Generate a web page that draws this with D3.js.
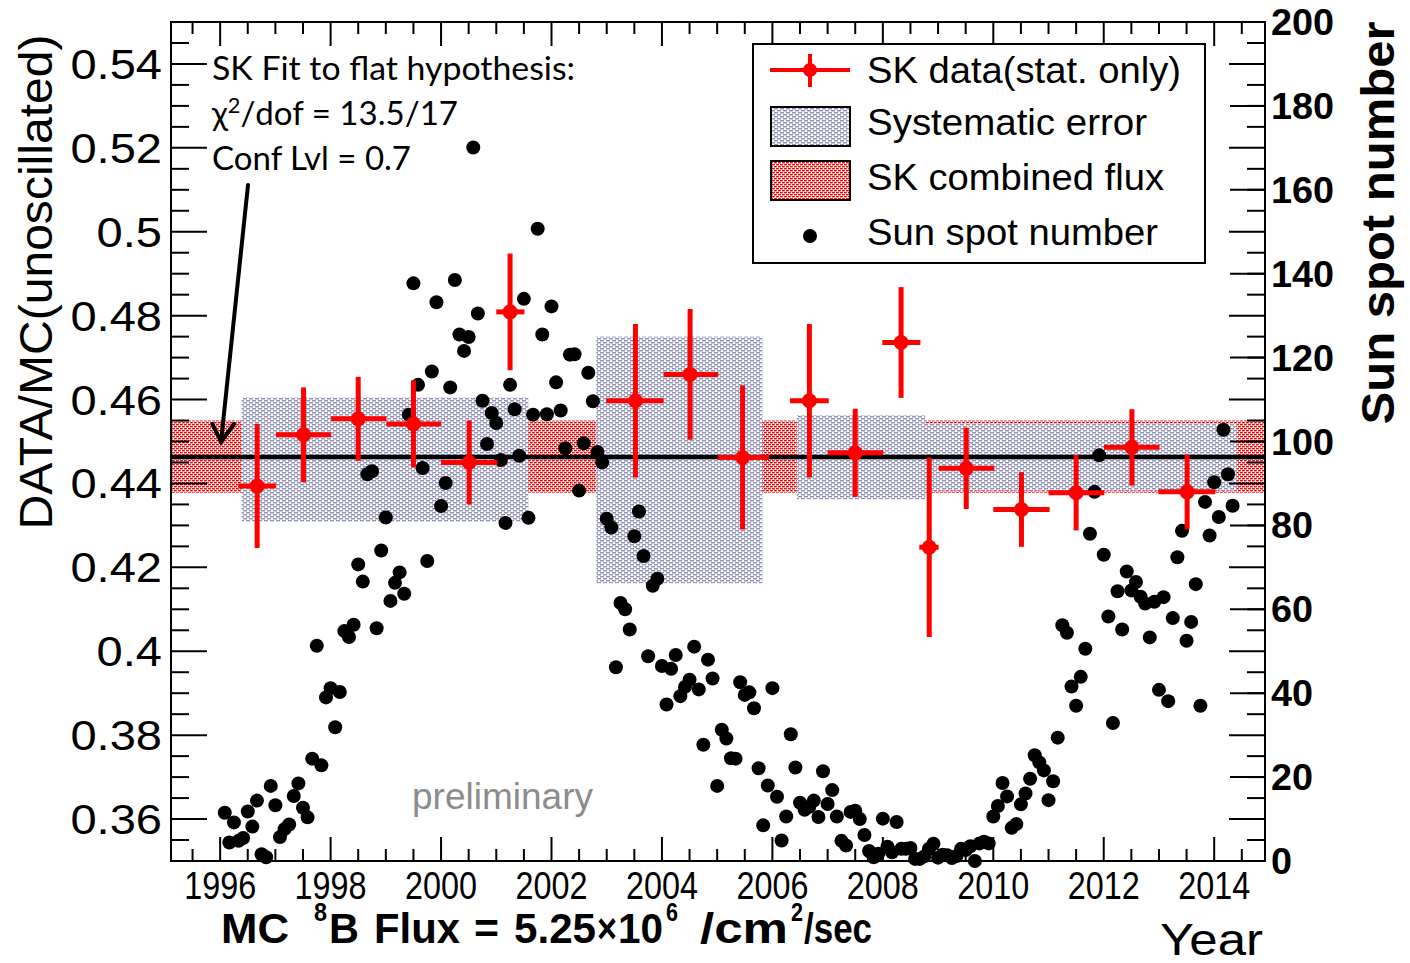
<!DOCTYPE html>
<html><head><meta charset="utf-8">
<script src="https://cdn.jsdelivr.net/npm/d3@7"></script>
<style>body{margin:0;background:#fff}svg{display:block}</style>
</head><body>
<svg id="c" width="1410" height="963"></svg>
<script>
// ---------------- DATA ----------------
// Monthly sun spot number, Jan 1996 .. Apr 2014
const sunspotStartYear = 1996;
const sunspotNumber = [
 11.5,4.4,9.2,4.8,5.5,11.8,8.2,14.4,1.6,0.9,17.9,13.3,
 5.7,7.6,8.7,15.5,18.5,12.7,10.4,24.4,51.3,22.8,39.0,41.2,
 31.9,40.3,54.8,53.4,56.3,70.7,66.6,92.2,92.9,55.5,74.0,81.9,
 62.0,66.3,68.8,63.7,106.4,137.7,113.5,93.7,71.5,116.7,133.2,84.6,
 90.1,112.9,138.5,125.5,121.6,124.9,170.1,130.5,109.7,99.4,106.8,104.4,
 95.6,80.6,113.5,107.7,96.6,134.0,81.8,106.4,150.7,125.5,106.5,132.2,
 114.1,107.4,98.4,120.7,120.8,88.3,99.6,116.4,109.6,97.5,95.0,81.6,
 79.5,46.2,61.5,60.0,55.2,77.4,83.3,72.7,48.8,65.6,67.3,46.5,
 37.3,45.8,49.1,39.3,41.5,43.2,51.1,40.9,27.7,48.0,43.5,17.9,
 31.3,29.2,24.5,24.4,42.6,39.6,40.2,36.4,22.1,8.5,18.0,41.2,
 15.3,4.9,10.6,30.2,22.3,13.9,12.2,12.9,14.4,10.5,21.4,13.6,
 16.9,10.6,4.8,3.7,11.7,12.0,10.0,6.2,2.4,0.9,1.7,10.1,
 3.4,2.1,9.3,2.9,2.9,3.1,0.5,0.5,1.1,2.9,4.1,0.8,
 1.5,1.4,0.7,1.2,2.9,2.6,3.5,0.0,4.2,4.6,4.2,10.6,
 13.1,18.6,15.4,7.9,8.8,13.5,16.1,19.6,25.2,23.5,21.6,14.5,
 19.0,29.4,56.2,54.4,41.6,37.0,43.9,50.6,78.0,88.0,96.7,73.0,
 58.3,32.9,64.3,55.2,69.0,64.5,66.5,63.0,61.4,53.3,61.8,40.8,
 62.9,38.1,57.9,72.4,78.7,52.5,57.0,66.0,37.0,85.6,77.6,90.3,
 82.0,102.8,92.2,84.7
];

// SK data (stat. only): bin centre, bin edges, DATA/MC value, stat error
const skYear  = [1996.67,1997.51,1998.50,1999.50,2000.51,2001.25,2003.52,2004.51,2005.46,2006.67,2007.50,2008.33,2008.84,2009.51,2010.51,2011.50,2012.51,2013.51];
const skBinLo = [1996.33,1997.01,1998.01,1999.01,2000.00,2001.00,2002.99,2004.03,2005.01,2006.32,2007.00,2007.99,2008.66,2009.01,2010.00,2011.00,2012.00,2012.99];
const skBinHi = [1997.01,1998.01,1999.01,2000.00,2001.02,2001.51,2004.03,2005.02,2005.94,2007.02,2008.01,2008.68,2009.01,2010.02,2011.02,2012.01,2013.01,2014.02];
const skValue = [0.4394,0.4516,0.4554,0.4542,0.4450,0.4809,0.4597,0.4660,0.4462,0.4597,0.4473,0.4736,0.4248,0.4436,0.4338,0.4378,0.4486,0.4380];
const skErr   = [0.0148,0.0113,0.0100,0.0104,0.0100,0.0139,0.0183,0.0156,0.0172,0.0183,0.0105,0.0132,0.0214,0.0097,0.0089,0.0090,0.0091,0.0089];

// Systematic error boxes (SK-I .. SK-IV)
const sysFrom = [1996.39,2002.81,2006.44,2008.77];
const sysTo   = [2001.58,2005.82,2008.77,2014.41];
const sysLow  = [0.4309,0.4162,0.4362,0.4383];
const sysHigh = [0.4605,0.4750,0.4563,0.4543];

// SK combined flux band and flat fit
const combinedLow = 0.4378, combinedHigh = 0.4550;
const flatFit = 0.4463;

const yearTicks = [1996,1998,2000,2002,2004,2006,2008,2010,2012,2014];
const leftTicks = [0.36,0.38,0.40,0.42,0.44,0.46,0.48,0.50,0.52,0.54];
const leftTickLabels = ["0.36","0.38","0.4","0.42","0.44","0.46","0.48","0.5","0.52","0.54"];
const rightTicks = [0,20,40,60,80,100,120,140,160,180,200];

// ---------------- CHART ----------------
const L=171,R=1265,T=22,B=861;
const svg=d3.select('#c');
const x=d3.scaleLinear().domain([1995.11,2014.92]).range([L,R]);
const yL=d3.scaleLinear().domain([0.35,0.55]).range([B,T]);
const yR=d3.scaleLinear().domain([0,200]).range([B,T]);
const SANS="'Liberation Sans', Arial, sans-serif";

function stretch(sel,f){sel.each(function(){const n=this.getComputedTextLength();d3.select(this).attr('textLength',n*f).attr('lengthAdjust','spacingAndGlyphs');});}
function fitW(sel,w){sel.attr('textLength',w).attr('lengthAdjust','spacingAndGlyphs');}

const defs=svg.append('defs');
const sp=defs.append('pattern').attr('id','sysPat').attr('width',6).attr('height',4).attr('patternUnits','userSpaceOnUse');
sp.append('rect').attr('width',6).attr('height',4).attr('fill','#fff');
[[0,0],[3,2],[-3,2]].forEach(([a,b])=>sp.append('rect').attr('x',a).attr('y',b).attr('width',4).attr('height',1.5).attr('fill','#9494ba'));
const rp=defs.append('pattern').attr('id','redPat').attr('width',4).attr('height',4).attr('patternUnits','userSpaceOnUse');
rp.append('rect').attr('width',4).attr('height',4).attr('fill','#fff');
[[0,0],[2,2],[-2,2]].forEach(([a,b])=>rp.append('rect').attr('x',a).attr('y',b).attr('width',2.8).attr('height',1.4).attr('fill','#ff0000'));

// combined flux band
svg.append('rect').attr('x',x(1995.11)).attr('width',x(2014.92)-x(1995.11))
  .attr('y',yL(combinedHigh)).attr('height',yL(combinedLow)-yL(combinedHigh)).attr('fill','url(#redPat)');
// systematic boxes
svg.selectAll('rect.sys').data(sysFrom).enter().append('rect').attr('class','sys')
  .attr('x',(d)=>x(d)).attr('width',(d,i)=>x(sysTo[i])-x(d))
  .attr('y',(d,i)=>yL(sysHigh[i])).attr('height',(d,i)=>yL(sysLow[i])-yL(sysHigh[i]))
  .attr('fill','url(#sysPat)');
// flat fit
svg.append('line').attr('x1',L).attr('x2',R).attr('y1',yL(flatFit)).attr('y2',yL(flatFit))
  .attr('stroke','#000').attr('stroke-width',4.5);

// sun spots
svg.append('g').selectAll('circle').data(sunspotNumber).enter().append('circle')
  .attr('cx',(d,i)=>x(sunspotStartYear+(i+1)/12)).attr('cy',d=>yR(d)).attr('r',7).attr('fill','#000');

// SK data
const gd=svg.append('g');
skYear.forEach((c,i)=>{
  gd.append('line').attr('x1',x(skBinLo[i])).attr('x2',x(skBinHi[i])).attr('y1',yL(skValue[i])).attr('y2',yL(skValue[i])).attr('stroke','#f00').attr('stroke-width',5);
  gd.append('line').attr('x1',x(c)).attr('x2',x(c)).attr('y1',yL(skValue[i]-skErr[i])).attr('y2',yL(skValue[i]+skErr[i])).attr('stroke','#f00').attr('stroke-width',5);
  gd.append('circle').attr('cx',x(c)).attr('cy',yL(skValue[i])).attr('r',7.5).attr('fill','#f00');
});

// frame & ticks
const ax=svg.append('g').attr('stroke','#000');
function minorRange(a,b,s){const r=[];for(let v=a;v<=b+1e-9;v+=s)r.push(+v.toFixed(4));return r;}
const xMinor=minorRange(1995.5,2014.5,0.5);
xMinor.forEach(v=>{const big=Math.abs(v/2-Math.round(v/2))<1e-6; const len=big?24:12; const px=x(v);
  ax.append('line').attr('x1',px).attr('x2',px).attr('y1',B).attr('y2',B-len).attr('stroke-width',2);
  ax.append('line').attr('x1',px).attr('x2',px).attr('y1',T).attr('y2',T+len).attr('stroke-width',2);});
const yMinor=minorRange(0.355,0.545,0.005);
yMinor.forEach(v=>{const big=Math.abs(v/0.02-Math.round(v/0.02))<1e-4; const len=big?36:18; const py=yL(v);
  ax.append('line').attr('x1',L).attr('x2',L+len).attr('y1',py).attr('y2',py).attr('stroke-width',2);
  ax.append('line').attr('x1',R).attr('x2',R-len).attr('y1',py).attr('y2',py).attr('stroke-width',2);});
rightTicks.forEach(v=>{const py=yR(v);ax.append('line').attr('x1',R).attr('x2',R-35).attr('y1',py).attr('y2',py).attr('stroke-width',2);});
svg.append('rect').attr('x',L).attr('y',T).attr('width',R-L).attr('height',B-T).attr('fill','none').attr('stroke','#000').attr('stroke-width',2);

// tick labels
svg.append('g').selectAll('text').data(yearTicks).enter().append('text')
  .attr('x',d=>x(d)).attr('y',899).attr('text-anchor','middle').attr('font-family',SANS).attr('font-size',38).text(d=>d)
  .call(s=>fitW(s,72));
svg.append('g').selectAll('text').data(leftTicks).enter().append('text')
  .attr('x',162).attr('y',d=>yL(d)+15).attr('text-anchor','end').attr('font-family',SANS).attr('font-size',42).text((d,i)=>leftTickLabels[i])
  .call(s=>stretch(s,1.12));
svg.append('g').selectAll('text').data(rightTicks).enter().append('text')
  .attr('x',1271).attr('y',d=>yR(d)+13).attr('text-anchor','start').attr('font-family',SANS).attr('font-weight','bold').attr('font-size',36).text(d=>d)
  .call(s=>stretch(s,1.05));

// axis titles
svg.append('text').attr('transform','translate(52,282) rotate(-90)').attr('text-anchor','middle')
  .attr('font-family',SANS).attr('font-size',47).text('DATA/MC(unoscillated)').call(s=>fitW(s,495));
svg.append('text').attr('transform','translate(1394,223) rotate(-90)').attr('text-anchor','middle')
  .attr('font-family',SANS).attr('font-weight','bold').attr('font-size',46).text('Sun spot number').call(s=>fitW(s,403));
svg.append('text').attr('x',1160).attr('y',955).attr('font-family',SANS).attr('font-size',44).text('Year').call(s=>fitW(s,103));

const bt=svg.append('text').attr('font-family',SANS).attr('font-weight','bold').attr('font-size',43).attr('y',943);
const parts=[['MC',221,68,0],['8',314,13,1],['B',329,30,0],['Flux',374,86,0],['=',474,25,0],['5.25',514,82,0],['×',597,20,0],['10',618,45,0],['6',666,12,1],['/cm',700,88,0],['2',791,12,1],['/sec',804,68,0]];
parts.forEach(([t,px,w,sup])=>{bt.append('tspan').attr('x',px).attr('y',sup?921:943).attr('font-size',sup?26:43).attr('textLength',w).attr('lengthAdjust','spacingAndGlyphs').text(t);});

// annotation
const CAL="Lato, 'Open Sans', sans-serif";
svg.append('text').attr('x',212).attr('y',80).attr('font-family',CAL).attr('font-size',32).text('SK Fit to flat hypothesis:').call(s=>fitW(s,363));
const t2=svg.append('text').attr('x',212).attr('y',125).attr('font-family',CAL).attr('font-size',32);
t2.append('tspan').text('χ');t2.append('tspan').attr('dy',-12).attr('font-size',21).text('2');t2.append('tspan').attr('dy',12).text('/dof = 13.5/17');
fitW(t2,246);
svg.append('text').attr('x',212).attr('y',170).attr('font-family',CAL).attr('font-size',32).text('Conf Lvl = 0.7').call(s=>fitW(s,199));
// arrow
const ar=svg.append('g').attr('stroke','#000').attr('stroke-width',4).attr('fill','none').attr('stroke-linecap','round');
ar.append('line').attr('x1',248).attr('y1',185).attr('x2',221).attr('y2',442);
ar.append('polyline').attr('points','212.5,424 221,442 234,424');

svg.append('text').attr('x',412).attr('y',809).attr('font-family',SANS).attr('font-size',37).attr('fill','#8c8c8c').text('preliminary').call(s=>fitW(s,181));

// legend
const lg=svg.append('g');
lg.append('rect').attr('x',753).attr('y',44).attr('width',452).attr('height',219).attr('fill','#fff').attr('stroke','#000').attr('stroke-width',2);
lg.append('line').attr('x1',770).attr('x2',850).attr('y1',70).attr('y2',70).attr('stroke','#f00').attr('stroke-width',4);
lg.append('line').attr('x1',810).attr('x2',810).attr('y1',54).attr('y2',87).attr('stroke','#f00').attr('stroke-width',4);
lg.append('circle').attr('cx',810).attr('cy',70).attr('r',7).attr('fill','#f00');
lg.append('rect').attr('x',771).attr('y',107).attr('width',79).attr('height',39).attr('fill','url(#sysPat)').attr('stroke','#000').attr('stroke-width',2);
lg.append('rect').attr('x',771).attr('y',161).attr('width',79).attr('height',39).attr('fill','url(#redPat)').attr('stroke','#000').attr('stroke-width',2);
lg.append('circle').attr('cx',810).attr('cy',236).attr('r',7).attr('fill','#000');
const legTexts=[['SK data(stat. only)',82.5,314],['Systematic error',135,280],['SK combined flux',190,297],['Sun spot number',245,291]];
legTexts.forEach(([t,yy,w])=>lg.append('text').attr('x',867).attr('y',yy).attr('font-family',SANS).attr('font-size',37).text(t).call(s=>fitW(s,w)));
</script>
</body></html>
